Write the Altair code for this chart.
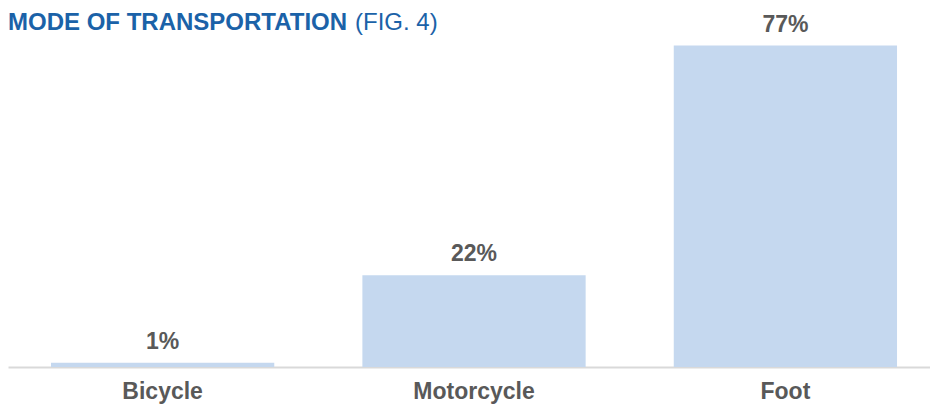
import altair as alt
import pandas as pd

categories = ["Bicycle", "Motorcycle", "Foot"]
values = [1, 22, 77]
value_labels = ["1%", "22%", "77%"]
title_bold = ["MODE OF TRANSPORTATION"]
title_regular = ["(FIG. 4)"]

df = pd.DataFrame({"mode": categories, "pct": values, "label": value_labels})

FONT = "Liberation Sans"
GRAY = "#595959"
BLUE = "#1b62a8"

x_enc = alt.X(
    "mode:N",
    sort=categories,
    title=None,
    scale=alt.Scale(paddingInner=0.283, paddingOuter=0.122, align=0.566),
    axis=alt.Axis(
        labelAngle=0,
        labelFont=FONT,
        labelFontSize=23,
        labelFontWeight="bold",
        labelColor=GRAY,
        labelPadding=13,
        ticks=False,
        domainColor="#d9d9d9",
        domainWidth=2,
    ),
)
y_enc = alt.Y("pct:Q", scale=alt.Scale(domain=[0, 86], nice=False, zero=True), axis=None)

base = alt.Chart(df)
bars = base.mark_bar(color="#c5d8ef").encode(x=x_enc, y=y_enc)
texts = base.mark_text(
    font=FONT, fontSize=23, fontWeight="bold", color=GRAY, baseline="alphabetic", dy=-14
).encode(x=alt.X("mode:N", sort=categories), y=y_enc, text="label:N")

t1 = alt.Chart(pd.DataFrame({"t": title_bold})).mark_text(
    font=FONT, fontSize=24, fontWeight="bold", color=BLUE, align="left", baseline="alphabetic"
).encode(x=alt.value(0), y=alt.value(22), text="t:N")
t2 = alt.Chart(pd.DataFrame({"t": title_regular})).mark_text(
    font=FONT, fontSize=24, fontWeight="normal", color=BLUE, align="left", baseline="alphabetic"
).encode(x=alt.value(347), y=alt.value(22), text="t:N")

chart = (
    alt.layer(bars, texts, t1, t2)
    .properties(
        width=922,
        height=359,
        autosize=alt.AutoSizeParams(type="none"),
        padding={"left": 0, "top": 0, "right": 0, "bottom": 38},
    )
    .configure_view(stroke=None)
)

chart.save("out.html", embed_options={"renderer": "svg", "actions": False})
